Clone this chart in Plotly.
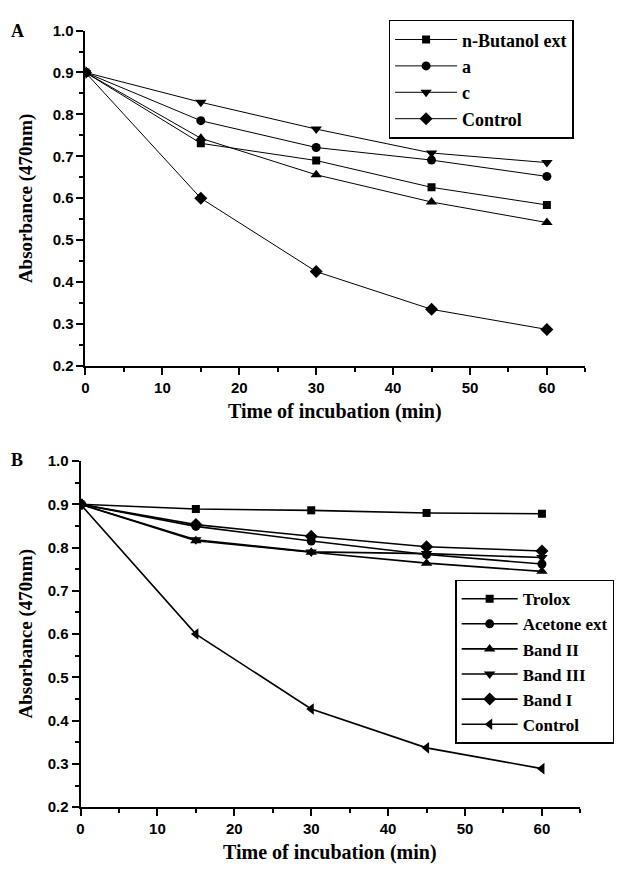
import plotly.graph_objects as go

# ---------------- data ----------------
time_min = [0, 15, 30, 45, 60]

# Panel A
a_names = ["n-Butanol ext", "a", "c", "Control"]
a_butanol = [0.900, 0.731, 0.690, 0.626, 0.584]
a_a = [0.900, 0.785, 0.721, 0.691, 0.652]
a_c = [0.900, 0.829, 0.765, 0.708, 0.685]
a_tri_up = [0.900, 0.743, 0.656, 0.591, 0.542]   # unlabeled series (triangle up)
a_control = [0.900, 0.600, 0.425, 0.335, 0.287]

# Panel B
b_names = ["Trolox", "Acetone ext", "Band II", "Band III", "Band I", "Control"]
b_trolox = [0.900, 0.889, 0.886, 0.880, 0.878]
b_acetone = [0.900, 0.849, 0.815, 0.784, 0.762]
b_band2 = [0.900, 0.816, 0.789, 0.764, 0.745]
b_band3 = [0.900, 0.818, 0.790, 0.786, 0.777]
b_band1 = [0.900, 0.853, 0.826, 0.802, 0.792]
b_control = [0.900, 0.600, 0.427, 0.337, 0.289]

x_ticks = [0, 10, 20, 30, 40, 50, 60]
y_ticks = [0.2, 0.3, 0.4, 0.5, 0.6, 0.7, 0.8, 0.9, 1.0]
y_tick_text = ["0.2", "0.3", "0.4", "0.5", "0.6", "0.7", "0.8", "0.9", "1.0"]

x_title = "Time of incubation (min)"
y_title = "Absorbance (470nm)"

# ---------------- figure ----------------
W, H = 640, 873
fig = go.Figure()

serif = "Liberation Serif, Times New Roman, serif"
sans = "Liberation Sans, Arial, sans-serif"

def add(xax, yax, y, name, symbol, size, lw, legend, show=True):
    fig.add_trace(go.Scatter(
        x=time_min, y=y, name=name, mode="lines+markers",
        xaxis=xax, yaxis=yax, legend=legend, showlegend=show,
        line=dict(color="black", width=lw),
        marker=dict(symbol=symbol, size=size, color="black"),
    ))

# Panel A
add("x", "y", a_butanol, a_names[0], "square", 8, 1, "legend")
add("x", "y", a_a, a_names[1], "circle", 9, 1, "legend")
add("x", "y", a_c, a_names[2], "triangle-down", 10, 1, "legend")
add("x", "y", a_control, a_names[3], "diamond", 10, 1, "legend")
add("x", "y", a_tri_up, "", "triangle-up", 10, 1, "legend", show=False)

# Panel B
add("x2", "y2", b_trolox, b_names[0], "square", 8, 1.6, "legend2")
add("x2", "y2", b_acetone, b_names[1], "circle", 9, 1.6, "legend2")
add("x2", "y2", b_band2, b_names[2], "triangle-up", 10, 1.6, "legend2")
add("x2", "y2", b_band3, b_names[3], "triangle-down", 10, 1.6, "legend2")
add("x2", "y2", b_band1, b_names[4], "diamond", 10, 1.6, "legend2")
add("x2", "y2", b_control, b_names[5], "triangle-left", 10, 1.6, "legend2")

def px_x(p):
    return p / W

def px_y(p):
    return 1 - p / H

tickfont = dict(family=sans, size=15, color="black", weight="bold")

def xaxis_cfg(domain, anchor):
    return dict(
        domain=domain, anchor=anchor, range=[0, 65],
        tickvals=x_ticks, ticks="outside", ticklen=7, tickwidth=2,
        tickcolor="black", showline=True, linecolor="black", linewidth=2,
        showgrid=False, zeroline=False, tickfont=tickfont,
        minor=dict(dtick=5, tick0=0, ticks="outside", ticklen=4,
                   tickwidth=2, tickcolor="black", showgrid=False),
    )

def yaxis_cfg(domain, anchor):
    return dict(
        domain=domain, anchor=anchor, range=[0.2, 1.0],
        tickvals=y_ticks, ticktext=y_tick_text, ticks="outside", ticklen=7,
        tickwidth=2, tickcolor="black", showline=True, linecolor="black",
        linewidth=2, showgrid=False, zeroline=False, tickfont=tickfont,
        minor=dict(dtick=0.05, tick0=0.2, ticks="outside", ticklen=4,
                   tickwidth=2, tickcolor="black", showgrid=False),
    )

fig.update_layout(
    width=W, height=H,
    margin=dict(l=0, r=0, t=0, b=0),
    paper_bgcolor="white", plot_bgcolor="white",
    xaxis=xaxis_cfg([px_x(82), px_x(585)], "y"),
    yaxis=yaxis_cfg([px_y(364), px_y(22)], "x"),
    xaxis2=xaxis_cfg([px_x(77), px_x(580)], "y2"),
    yaxis2=yaxis_cfg([px_y(814), px_y(461)], "x2"),
    legend=dict(
        x=px_x(387), y=px_y(11), xanchor="left", yanchor="top",
        bordercolor="black", borderwidth=1.5, bgcolor="white",
        font=dict(family=serif, size=18, color="black", weight="bold"),
        itemwidth=62, tracegroupgap=0,
    ),
    legend2=dict(
        x=px_x(454), y=px_y(582), xanchor="left", yanchor="top",
        bordercolor="black", borderwidth=1.5, bgcolor="white",
        font=dict(family=serif, size=17, color="black", weight="bold"),
        itemwidth=56, tracegroupgap=0,
    ),
    showlegend=True,
)

anns = [
    dict(text="A", x=px_x(14), y=px_y(22), size=18),
    dict(text="B", x=px_x(13), y=px_y(460), size=18),
    dict(text=x_title, x=px_x(333), y=px_y(410), size=20),
    dict(text=x_title, x=px_x(328), y=px_y(860), size=20),
    dict(text=y_title, x=px_x(22), y=px_y(193), size=19, textangle=-90),
    dict(text=y_title, x=px_x(22), y=px_y(637), size=19, textangle=-90),
]
for a in anns:
    size = a.pop("size")
    a.update(xref="paper", yref="paper", showarrow=False,
             xanchor="center", yanchor="middle",
             font=dict(family=serif, size=size, color="black", weight="bold"))
    fig.add_annotation(**a)

fig.write_html(
    "out.html",
    config={"displayModeBar": False},
    post_script="document.body.style.margin='0';document.documentElement.style.overflow='hidden';",
)
